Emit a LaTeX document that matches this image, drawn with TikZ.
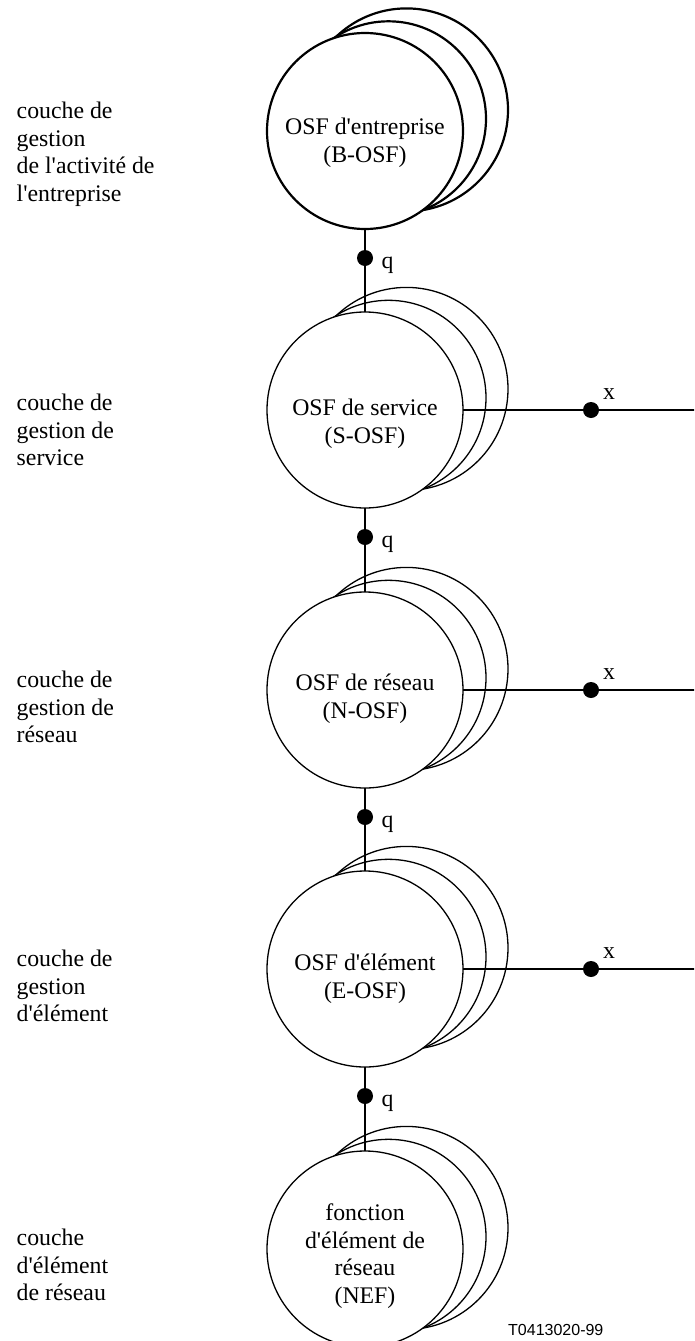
\documentclass[tikz,border=0pt]{standalone}
\usepackage{fontspec}
% plain families (no TeX ligatures) so that apostrophes stay straight
\newfontfamily\osffont{Liberation Serif}
\newfontfamily\codefont{Liberation Sans}
\begin{document}
\begin{tikzpicture}[x=1pt,y=-1pt,
  osf/.style={circle,draw,fill=white,inner sep=0pt,outer sep=0pt,minimum size=196pt,line width=1.3pt},
  osfbold/.style={osf,line width=2.2pt},
  ptdot/.style={circle,fill=black,inner sep=0pt,outer sep=0pt,minimum size=16pt},
  link/.style={line width=2pt},
  txt/.style={inner sep=0pt,font=\osffont\fontsize{23.8}{27.6}\selectfont},
  layertext/.style={txt,anchor=north west,align=left},
  osftext/.style={txt,anchor=north,align=center},
  reflabel/.style={txt,anchor=base west},
  codelabel/.style={inner sep=0pt,anchor=base west,font=\codefont\fontsize{16}{19}\selectfont}
]
\useasboundingbox (0,0) rectangle (694,1341);
\clip (0,0) rectangle (694,1341);

% stacked OSF circles: the two copies behind each front circle pass
% through the same two points of it, so they show as nested crescents
\foreach \nm/\cy/\st in {bosf/131/osfbold, sosf/410/osf, nosf/690/osf, eosf/969/osf, nef/1249/osf}{
  \node[\st,minimum size=203pt] (\nm back2) at (406.5,\cy-21.1) {};
  \node[\st,minimum size=195pt] (\nm back1) at (388.5,\cy-12.2) {};
  \node[\st] (\nm) at (365,\cy) {};
}

% texts inside the circles
\node[osftext] (bosftext) at (365,134-16.3) {OSF d'entreprise\\(B-OSF)};
\node[osftext] (sosftext) at (365,415-16.3) {OSF de service\\(S-OSF)};
\node[osftext] (nosftext) at (365,690-16.3) {OSF de réseau\\(N-OSF)};
\node[osftext] (eosftext) at (365,970-16.3) {OSF d'élément\\(E-OSF)};
\node[osftext] (neftext) at (365,1220-16.3) {fonction\\d'élément de\\réseau\\(NEF)};

% layer names
\node[layertext] (lay1) at (16.5,118-16.3) {couche de\\gestion\\de l'activité de\\l'entreprise};
\node[layertext] (lay2) at (16.5,410-16.3) {couche de\\gestion de\\service};
\node[layertext] (lay3) at (16.5,687-16.3) {couche de\\gestion de\\réseau};
\node[layertext] (lay4) at (16.5,966-16.3) {couche de\\gestion\\d'élément};
\node[layertext] (lay5) at (16.5,1245-16.3) {couche\\d'élément\\de réseau};

% q reference points between layers
\node[ptdot] (q1) at (365,258) {};
\node[ptdot] (q2) at (365,537) {};
\node[ptdot] (q3) at (365,817) {};
\node[ptdot] (q4) at (365,1096) {};
\draw[link] (bosf) -- (q1) -- (sosf);
\draw[link] (sosf) -- (q2) -- (nosf);
\draw[link] (nosf) -- (q3) -- (eosf);
\draw[link] (eosf) -- (q4) -- (nef);
\node[reflabel] (q1lab) at (381.5,268) {q};
\node[reflabel] (q2lab) at (381.5,547) {q};
\node[reflabel] (q3lab) at (381.5,827) {q};
\node[reflabel] (q4lab) at (381.5,1106) {q};

% x reference points to the right
\node[ptdot] (x1) at (591,410) {};
\node[ptdot] (x2) at (591,690) {};
\node[ptdot] (x3) at (591,969) {};
\coordinate (x1end) at (700,410);
\coordinate (x2end) at (700,690);
\coordinate (x3end) at (700,969);
\draw[link] (sosf) -- (x1) -- (x1end);
\draw[link] (nosf) -- (x2) -- (x2end);
\draw[link] (eosf) -- (x3) -- (x3end);
\node[reflabel] (x1lab) at (603,399) {x};
\node[reflabel] (x2lab) at (603,679) {x};
\node[reflabel] (x3lab) at (603,958) {x};

\node[codelabel] (figid) at (508,1335) {T0413020-99};
\end{tikzpicture}
\end{document}
